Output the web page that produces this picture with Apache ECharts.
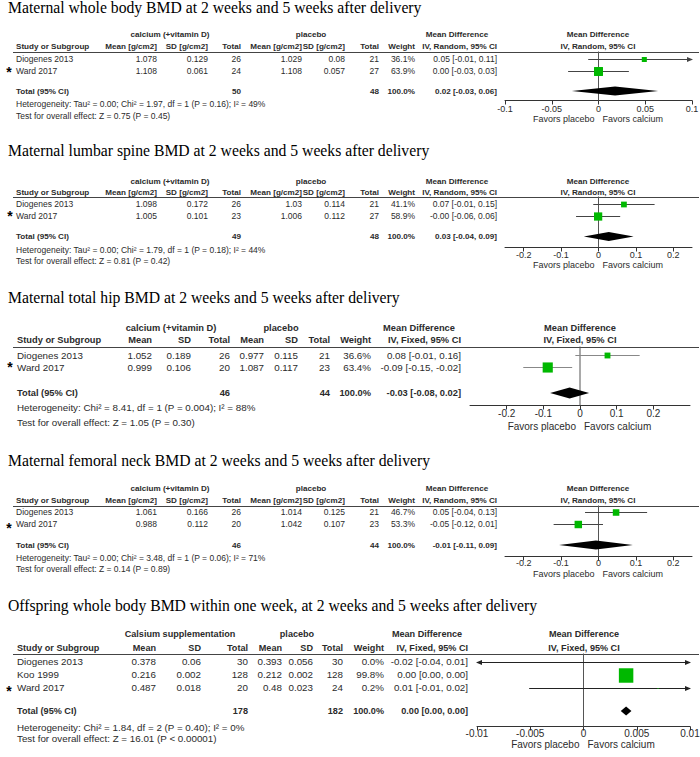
<!DOCTYPE html>
<html><head><meta charset="utf-8">
<script src="https://cdn.jsdelivr.net/npm/echarts@6/dist/echarts.min.js"></script>
<style>html,body{margin:0;padding:0;background:#fff}#c{width:700px;height:757px}</style>
</head><body><div id="c"></div>
<script>
// ---------------- DATA ----------------
const panelTitles = [
  'Maternal whole body BMD at 2 weeks and 5 weeks after delivery',
  'Maternal lumbar spine BMD at 2 weeks and 5 weeks after delivery',
  'Maternal total hip BMD at 2 weeks and 5 weeks after delivery',
  'Maternal femoral neck BMD at 2 weeks and 5 weeks after delivery',
  'Offspring whole body BMD within one week, at 2 weeks and 5 weeks after delivery'
];
const experimentalLabels = ['calcium (+vitamin D)', 'calcium (+vitamin D)', 'calcium (+vitamin D)', 'calcium (+vitamin D)', 'Calsium supplementation'];
const controlLabels = ['placebo', 'placebo', 'placebo', 'placebo', 'placebo'];
const columnHeadersUnits = ['Study or Subgroup', 'Mean [g/cm2]', 'SD [g/cm2]', 'Total', 'Mean [g/cm2]', 'SD [g/cm2]', 'Total', 'Weight'];
const columnHeadersPlain = ['Study or Subgroup', 'Mean', 'SD', 'Total', 'Mean', 'SD', 'Total', 'Weight'];
const methodLabels = ['IV, Random, 95% CI', 'IV, Random, 95% CI', 'IV, Fixed, 95% CI', 'IV, Random, 95% CI', 'IV, Fixed, 95% CI'];
const markedStudy = ['Ward 2017', 'Ward 2017', 'Ward 2017', 'Ward 2017', 'Ward 2017'];

const studyNames = [
  ['Diogenes 2013', 'Ward 2017'],
  ['Diogenes 2013', 'Ward 2017'],
  ['Diogenes 2013', 'Ward 2017'],
  ['Diogenes 2013', 'Ward 2017'],
  ['Diogenes 2013', 'Koo 1999', 'Ward 2017']
];
const expMean = [[1.078, 1.108], [1.098, 1.005], [1.052, 0.999], [1.061, 0.988], [0.378, 0.216, 0.487]];
const expSD = [[0.129, 0.061], [0.172, 0.101], [0.189, 0.106], [0.166, 0.112], [0.06, 0.002, 0.018]];
const expN = [[26, 24], [26, 23], [26, 20], [26, 20], [30, 128, 20]];
const ctlMean = [[1.029, 1.108], [1.03, 1.006], [0.977, 1.087], [1.014, 1.042], [0.393, 0.212, 0.48]];
const ctlSD = [[0.08, 0.057], [0.114, 0.112], [0.115, 0.117], [0.125, 0.107], [0.056, 0.002, 0.023]];
const ctlN = [[21, 27], [21, 27], [21, 23], [21, 23], [30, 128, 24]];
const weights = [[36.1, 63.9], [41.1, 58.9], [36.6, 63.4], [46.7, 53.3], [0.0, 99.8, 0.2]];
const meanDiff = [[0.049, 0.000], [0.068, -0.001], [0.075, -0.088], [0.047, -0.054], [-0.015, 0.004, 0.007]];
const ciLow = [[-0.011, -0.0325], [-0.014, -0.060], [-0.0127, -0.1547], [-0.036, -0.120], [-0.0444, 0.0035, -0.0051]];
const ciHigh = [[0.109, 0.0325], [0.150, 0.058], [0.1627, -0.0213], [0.130, 0.012], [0.0144, 0.0045, 0.0191]];

const totalExpN = [50, 49, 46, 46, 178];
const totalCtlN = [48, 48, 44, 44, 182];
const totalMD = [0.0177, 0.0274, -0.0283, -0.0069, 0.0040];
const totalLow = [-0.0285, -0.0393, -0.0814, -0.1056, 0.0035];
const totalHigh = [0.0638, 0.0940, 0.0248, 0.0919, 0.0045];

const heterogeneityText = [
  'Heterogeneity: Tau\u00b2 = 0.00; Chi\u00b2 = 1.97, df = 1 (P = 0.16); I\u00b2 = 49%',
  'Heterogeneity: Tau\u00b2 = 0.00; Chi\u00b2 = 1.79, df = 1 (P = 0.18); I\u00b2 = 44%',
  'Heterogeneity: Chi\u00b2 = 8.41, df = 1 (P = 0.004); I\u00b2 = 88%',
  'Heterogeneity: Tau\u00b2 = 0.00; Chi\u00b2 = 3.48, df = 1 (P = 0.06); I\u00b2 = 71%',
  'Heterogeneity: Chi\u00b2 = 1.84, df = 2 (P = 0.40); I\u00b2 = 0%'
];
const overallEffectText = [
  'Test for overall effect: Z = 0.75 (P = 0.45)',
  'Test for overall effect: Z = 0.81 (P = 0.42)',
  'Test for overall effect: Z = 1.05 (P = 0.30)',
  'Test for overall effect: Z = 0.14 (P = 0.89)',
  'Test for overall effect: Z = 16.01 (P < 0.00001)'
];
const axisMin = [-0.1, -0.25, -0.3, -0.25, -0.01];
const axisMax = [0.1, 0.25, 0.3, 0.25, 0.01];
const tickValues = [
  [-0.1, -0.05, 0, 0.05, 0.1],
  [-0.2, -0.1, 0, 0.1, 0.2],
  [-0.2, -0.1, 0, 0.1, 0.2],
  [-0.2, -0.1, 0, 0.1, 0.2],
  [-0.01, -0.005, 0, 0.005, 0.01]
];
const favorsLeft = 'Favors placebo';
const favorsRight = 'Favors calcium';

// ---------------- LAYOUT ----------------
const COLS_A = {study: 16, cols: [157, 208, 241, 302, 345, 379, 415], md: 497, mdHead: 457, grp1: 170, grp2: 311, plotHead: 598};
const COLS_B1 = {study: 17, cols: [152, 191, 230, 264, 298, 330, 371], md: 461, mdHead: 419, grp1: 171, grp2: 281, plotHead: 580};
const COLS_B2 = {study: 17, cols: [156, 201, 248, 282, 313, 343, 384], md: 468, mdHead: 427, grp1: 180, grp2: 297, plotHead: 584};
const LAYOUT = [
  {title: 7, h1: 34.5, h2: 46, line: 51.5, row0: 59, rowH: 12, total: 91, het: 104, test: 116, axis: 100.5, label: 109.5, favors: 119, plotX: [505, 692], star: [9, 72], C: COLS_A, font: 8.5, bfont: 8.1, axisFont: 9, sq: 0.14, dh: 4.5, ci: '#444', units: true},
  {title: 150.5, h1: 181, h2: 192, line: 196.5, row0: 203.5, rowH: 12, total: 236.5, het: 249.5, test: 260.5, axis: 247.5, label: 255, favors: 264.5, plotX: [505, 692], star: [10, 216], C: COLS_A, font: 8.5, bfont: 8.1, axisFont: 9, sq: 0.14, dh: 4.5, ci: '#444', units: true},
  {title: 297.5, h1: 327.5, h2: 339.5, line: 346.5, row0: 355, rowH: 12, total: 393, het: 407.5, test: 422, axis: 405.5, label: 414, favors: 426, plotX: [470, 690], star: [10, 367], C: COLS_B1, font: 9.8, bfont: 9.3, axisFont: 10, sq: 0.16, dh: 5.5, ci: '#888', units: false},
  {title: 460.5, h1: 488.5, h2: 500, line: 505.5, row0: 511.5, rowH: 12, total: 545, het: 558, test: 569, axis: 556.5, label: 563.5, favors: 573.5, plotX: [505, 692], star: [9, 528], C: COLS_A, font: 8.5, bfont: 8.1, axisFont: 9, sq: 0.14, dh: 4.5, ci: '#444', units: true},
  {title: 605, h1: 633.5, h2: 647.5, line: 653.5, row0: 661.5, rowH: 13, total: 711, het: 727, test: 738.5, axis: 726.5, label: 733.5, favors: 744, plotX: [477, 690], star: [9, 691], C: COLS_B2, font: 9.8, bfont: 9.1, axisFont: 10, sq: 0.145, dh: 4.5, ci: '#222', units: false}
];
const SANS = '"Liberation Sans", Arial, sans-serif';
const SERIF = '"Liberation Serif", "Times New Roman", serif';
const TXT = '#2b2b2b';
const GREEN = '#00b800';

function fmt2(v) {
  const r = Math.round(Math.abs(v) * 100 + 1e-6) / 100;
  return (v < 0 ? '-' : '') + r.toFixed(2);
}
function ciText(m, l, h) { return fmt2(m) + ' [' + fmt2(l) + ', ' + fmt2(h) + ']'; }

const chart = echarts.init(document.getElementById('c'), null, {renderer: 'svg', width: 700, height: 757});

const grids = [], xAxes = [], yAxes = [], series = [];
LAYOUT.forEach((L, p) => {
  const yMin = (L.line - L.row0) / L.rowH;
  const yMax = (L.axis - L.row0) / L.rowH;
  const totalRow = (L.total - L.row0) / L.rowH;
  grids.push({left: L.plotX[0], width: L.plotX[1] - L.plotX[0], top: L.line, height: L.axis - L.line, containLabel: false, outerBoundsMode: 'none'});
  xAxes.push({
    gridIndex: p, type: 'value', min: axisMin[p], max: axisMax[p],
    axisLine: {show: true, onZero: false, lineStyle: {color: '#333', width: 1}},
    axisTick: {show: true, inside: false, length: 4, customValues: tickValues[p], lineStyle: {color: '#333', width: 1}},
    axisLabel: {show: true, customValues: tickValues[p], formatter: v => String(v), fontSize: L.axisFont, fontFamily: SANS, color: TXT, margin: L.label - L.axis - L.axisFont / 2 - 0.5, hideOverlap: false},
    splitLine: {show: false}
  });
  yAxes.push({gridIndex: p, type: 'value', inverse: true, min: yMin, max: yMax, show: false});

  // zero reference line
  series.push({
    type: 'line', xAxisIndex: p, yAxisIndex: p, symbol: 'none', silent: true, animation: false,
    lineStyle: {color: '#555', width: 1}, data: [[0, yMin], [0, yMax]], z: 1
  });

  // studies
  const data = studyNames[p].map((s, i) => [meanDiff[p][i], ciLow[p][i], ciHigh[p][i], i, weights[p][i]]);
  series.push({
    type: 'custom', xAxisIndex: p, yAxisIndex: p, animation: false, z: 3, clip: false,
    encode: {x: [0, 1, 2], y: 3},
    data,
    renderItem: function (params, api) {
      const md = api.value(0), lo = api.value(1), hi = api.value(2), row = api.value(3), w = api.value(4);
      const y = Math.round(api.coord([0, row])[1]) + 0.5;
      const xmin = api.coord([axisMin[p], row])[0], xmax = api.coord([axisMax[p], row])[0];
      let x1 = api.coord([lo, row])[0], x2 = api.coord([hi, row])[0];
      const la = x1 < xmin - 0.5, ra = x2 > xmax + 0.5;
      x1 = Math.max(x1, xmin); x2 = Math.min(x2, xmax);
      const ch = [{type: 'line', shape: {x1: x1, y1: y, x2: x2, y2: y}, style: {stroke: L.ci, lineWidth: 1}}];
      if (la) ch.push({type: 'polygon', shape: {points: [[xmin - 1, y], [xmin + 5, y - 2.5], [xmin + 5, y + 2.5]]}, style: {fill: L.ci}});
      if (ra) ch.push({type: 'polygon', shape: {points: [[xmax + 1, y], [xmax - 5, y - 2.5], [xmax - 5, y + 2.5]]}, style: {fill: L.ci}});
      const xc = api.coord([md, row])[0];
      const s = Math.max(w * L.sq, w > 0 ? 1 : 0);
      if (s > 0 && xc >= xmin && xc <= xmax) ch.push({type: 'rect', shape: {x: xc - s / 2, y: y - s / 2, width: s, height: s}, style: {fill: GREEN}});
      return {type: 'group', children: ch};
    }
  });

  // pooled diamond
  series.push({
    type: 'custom', xAxisIndex: p, yAxisIndex: p, animation: false, z: 3, clip: false,
    encode: {x: [0, 1, 2], y: 3},
    data: [[totalMD[p], totalLow[p], totalHigh[p], totalRow]],
    renderItem: function (params, api) {
      const row = api.value(3);
      const c = api.coord([api.value(0), row]);
      let xl = api.coord([api.value(1), row])[0], xr = api.coord([api.value(2), row])[0];
      xl = Math.min(xl, c[0] - 4); xr = Math.max(xr, c[0] + 4);
      return {type: 'polygon', shape: {points: [[xl, c[1]], [c[0], c[1] - L.dh], [xr, c[1]], [c[0], c[1] + L.dh]]}, style: {fill: '#000'}};
    }
  });
});

chart.setOption({
  animation: false,
  grid: grids, xAxis: xAxes, yAxis: yAxes, series: series
});

// ---------------- TEXT / TABLES ----------------
const g = [];
function T(x, y, text, o) {
  o = o || {};
  g.push({type: 'text', x: x, y: y, silent: true, style: {
    text: text, fill: o.color || TXT, align: o.align || 'left', verticalAlign: 'middle',
    font: (o.bold ? 'bold ' : '') + o.size + 'px ' + (o.family || SANS)
  }});
}
function HL(x1, x2, y, color) {
  g.push({type: 'line', silent: true, shape: {x1: x1, y1: y, x2: x2, y2: y}, style: {stroke: color || '#444', lineWidth: 1}});
}
LAYOUT.forEach((L, p) => {
  const C = L.C, f = L.font, bf = L.bfont;
  T(8, L.title, panelTitles[p], {size: 15.7, family: SERIF, color: '#000'});
  // group headers
  T(C.grp1, L.h1, experimentalLabels[p], {size: bf, bold: true, align: 'center'});
  T(C.grp2, L.h1, controlLabels[p], {size: bf, bold: true, align: 'center'});
  T(C.mdHead, L.h1, 'Mean Difference', {size: bf, bold: true, align: 'center'});
  T(C.plotHead, L.h1, 'Mean Difference', {size: bf, bold: true, align: 'center'});
  // column headers
  const heads = L.units ? columnHeadersUnits : columnHeadersPlain;
  T(C.study, L.h2, heads[0], {size: bf, bold: true});
  for (let k = 1; k < heads.length; k++) T(C.cols[k - 1], L.h2, heads[k], {size: bf, bold: true, align: 'right'});
  T(C.md, L.h2, methodLabels[p], {size: bf, bold: true, align: 'right'});
  T(C.plotHead, L.h2, methodLabels[p], {size: bf, bold: true, align: 'center'});
  HL(13, 699, Math.round(L.line) + 0.5, '#444');
  // study rows
  studyNames[p].forEach((s, i) => {
    const y = L.row0 + i * L.rowH;
    T(C.study, y, s, {size: f});
    const vals = [expMean[p][i], expSD[p][i], expN[p][i], ctlMean[p][i], ctlSD[p][i], ctlN[p][i]].map(String);
    vals.push(weights[p][i].toFixed(1) + '%');
    vals.forEach((v, k) => T(C.cols[k], y, v, {size: f, align: 'right'}));
    T(C.md, y, ciText(meanDiff[p][i], ciLow[p][i], ciHigh[p][i]), {size: f, align: 'right'});
    if (s === markedStudy[p]) T(L.star[0], L.star[1], '*', {size: 14, family: SANS, color: '#000', align: 'center', bold: true});
  });
  // total row
  T(C.study, L.total, 'Total (95% CI)', {size: bf, bold: true});
  T(C.cols[2], L.total, String(totalExpN[p]), {size: bf, bold: true, align: 'right'});
  T(C.cols[5], L.total, String(totalCtlN[p]), {size: bf, bold: true, align: 'right'});
  T(C.cols[6], L.total, '100.0%', {size: bf, bold: true, align: 'right'});
  T(C.md, L.total, ciText(totalMD[p], totalLow[p], totalHigh[p]), {size: bf, bold: true, align: 'right'});
  T(C.study, L.het, heterogeneityText[p], {size: f});
  T(C.study, L.test, overallEffectText[p], {size: f});
  // favors
  const zx = chart.convertToPixel({gridIndex: p}, [0, 0])[0];
  T(zx - 4, L.favors, favorsLeft, {size: L.axisFont, align: 'right'});
  T(zx + 4, L.favors, favorsRight, {size: L.axisFont});
});
chart.setOption({graphic: {elements: g}});
</script></body></html>
